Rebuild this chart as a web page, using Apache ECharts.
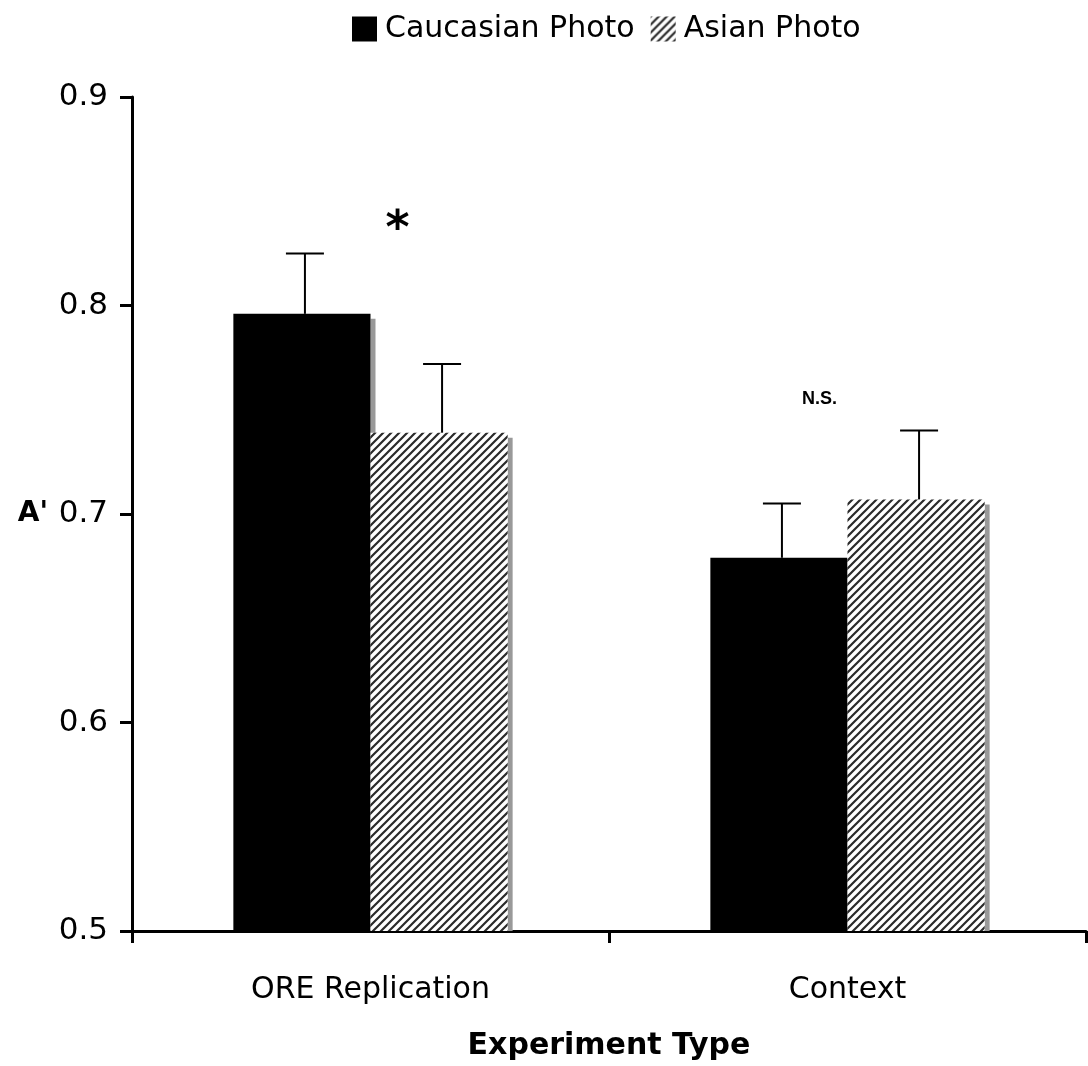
<!DOCTYPE html>
<html>
<head>
<meta charset="utf-8">
<script src="https://cdn.jsdelivr.net/npm/echarts@6/dist/echarts.min.js"></script>
<style>
  html, body { margin: 0; padding: 0; background: #fff; }
  #chart { width: 1088px; height: 1066px; }
</style>
</head>
<body>
<div id="chart"></div>
<script>
var categories = ['ORE Replication', 'Context'];
var seriesNames = ['Caucasian Photo', 'Asian Photo'];
var caucasianMeans = [0.796, 0.679];
var asianMeans = [0.739, 0.707];
var caucasianUpper = [0.825, 0.705];
var asianUpper = [0.772, 0.740];
var notes = ['*', 'N.S.'];
var noteValues = [0.8355, 0.755];

var dom = document.getElementById('chart');
var myChart = echarts.init(dom);

// diagonal hatch fill (lines bottom-left -> top-right)
var hatch = document.createElement('canvas');
hatch.width = 8;
hatch.height = 8;
var hc = hatch.getContext('2d');
hc.fillStyle = '#fff';
hc.fillRect(0, 0, 8, 8);
hc.strokeStyle = '#2a2a2a';
hc.lineWidth = 2.2;
hc.beginPath();
hc.moveTo(0, 8); hc.lineTo(8, 0);
hc.moveTo(-2, 2); hc.lineTo(2, -2);
hc.moveTo(6, 10); hc.lineTo(10, 6);
hc.stroke();
var hatchFill = { image: hatch, repeat: 'repeat' };

var barCategoryGap = 0.425;
var fontFamily = 'DejaVu Sans, Verdana, sans-serif';
var yMin = 0.5;

function halfBar(api) {
    var catW = api.size([1, 0])[0];
    return catW * (1 - barCategoryGap) / 2;
}

function errorSeries(upper, means, side) {
    return {
        type: 'custom',
        silent: true,
        z: 5,
        data: upper.map(function (u, i) { return [i, means[i], u]; }),
        renderItem: function (params, api) {
            var barW = halfBar(api);
            var base = api.coord([api.value(0), api.value(1)]);
            var top = api.coord([api.value(0), api.value(2)]);
            var x = base[0] + side * barW / 2 + 3;
            var cap = 19;
            var st = { stroke: '#000', lineWidth: 2 };
            return {
                type: 'group',
                children: [
                    { type: 'line', shape: { x1: x, y1: base[1], x2: x, y2: top[1] }, style: st },
                    { type: 'line', shape: { x1: x - cap, y1: top[1], x2: x + cap, y2: top[1] }, style: st }
                ]
            };
        }
    };
}

// grey drop shadow on the right side of each bar
function shadowSeries(means, side) {
    return {
        type: 'custom',
        silent: true,
        z: 1,
        data: means.map(function (m, i) { return [i, m]; }),
        renderItem: function (params, api) {
            var barW = halfBar(api);
            var top = api.coord([api.value(0), api.value(1)]);
            var base = api.coord([api.value(0), yMin]);
            var right = top[0] + (side > 0 ? barW : 0);
            return {
                type: 'rect',
                shape: { x: right, y: top[1] + 5, width: 5, height: base[1] - top[1] - 5 },
                style: { fill: '#999' }
            };
        }
    };
}

var option = {
    animation: false,
    backgroundColor: '#fff',
    legend: {
        top: 9,
        left: 347,
        itemWidth: 25,
        itemHeight: 25,
        itemGap: 16,
        icon: 'rect',
        textStyle: { fontFamily: fontFamily, fontSize: 30, color: '#000', padding: [0, 0, 0, 3] },
        data: seriesNames
    },
    grid: { left: 132, right: 2, top: 97, bottom: 128 },
    xAxis: {
        type: 'category',
        data: categories,
        name: 'Experiment Type',
        nameLocation: 'middle',
        nameGap: 100,
        nameTextStyle: { fontFamily: fontFamily, fontSize: 30, fontWeight: 'bold', color: '#000' },
        axisLine: { lineStyle: { color: '#000', width: 3 } },
        axisTick: { show: true, length: 12, lineStyle: { color: '#000', width: 3 } },
        axisLabel: { fontFamily: fontFamily, fontSize: 30, color: '#000', margin: 44 }
    },
    yAxis: {
        type: 'value',
        min: yMin,
        max: 0.9,
        interval: 0.1,
        name: "A'",
        nameLocation: 'middle',
        nameRotate: 0,
        nameGap: 84,
        nameTextStyle: { fontFamily: fontFamily, fontSize: 28, fontWeight: 'bold', color: '#000' },
        splitLine: { show: false },
        axisLine: { show: true, lineStyle: { color: '#000', width: 3 } },
        axisTick: { show: true, length: 12, lineStyle: { color: '#000', width: 3 } },
        axisLabel: {
            fontFamily: fontFamily, fontSize: 31, color: '#000', margin: 24,
            formatter: function (v) { return v.toFixed(1); }
        }
    },
    series: [
        {
            name: seriesNames[0],
            type: 'bar',
            data: caucasianMeans,
            barGap: 0,
            barCategoryGap: (barCategoryGap * 100) + '%',
            itemStyle: { color: '#000' }
        },
        {
            name: seriesNames[1],
            type: 'bar',
            data: asianMeans,
            barGap: 0,
            barCategoryGap: (barCategoryGap * 100) + '%',
            itemStyle: { color: hatchFill }
        },
        shadowSeries(caucasianMeans, -1),
        shadowSeries(asianMeans, 1),
        errorSeries(caucasianUpper, caucasianMeans, -1),
        errorSeries(asianUpper, asianMeans, 1),
        {
            type: 'custom',
            silent: true,
            z: 6,
            data: notes.map(function (n, i) { return [i, noteValues[i], n]; }),
            renderItem: function (params, api) {
                var p = api.coord([api.value(0), api.value(1)]);
                var isStar = params.dataIndex === 0;
                return {
                    type: 'text',
                    x: p[0] + (isStar ? 27 : -28),
                    y: p[1],
                    style: {
                        text: notes[params.dataIndex],
                        fontFamily: isStar ? fontFamily : 'Liberation Sans, Arial, sans-serif',
                        fontSize: isStar ? 46 : 18,
                        fontWeight: 'bold',
                        fill: '#000',
                        align: 'center',
                        verticalAlign: 'middle'
                    }
                };
            }
        }
    ]
};

if (option && typeof option === 'object') {
    myChart.setOption(option, true);
}

window.addEventListener('resize', function () {
    myChart.resize();
});
</script>
</body>
</html>
